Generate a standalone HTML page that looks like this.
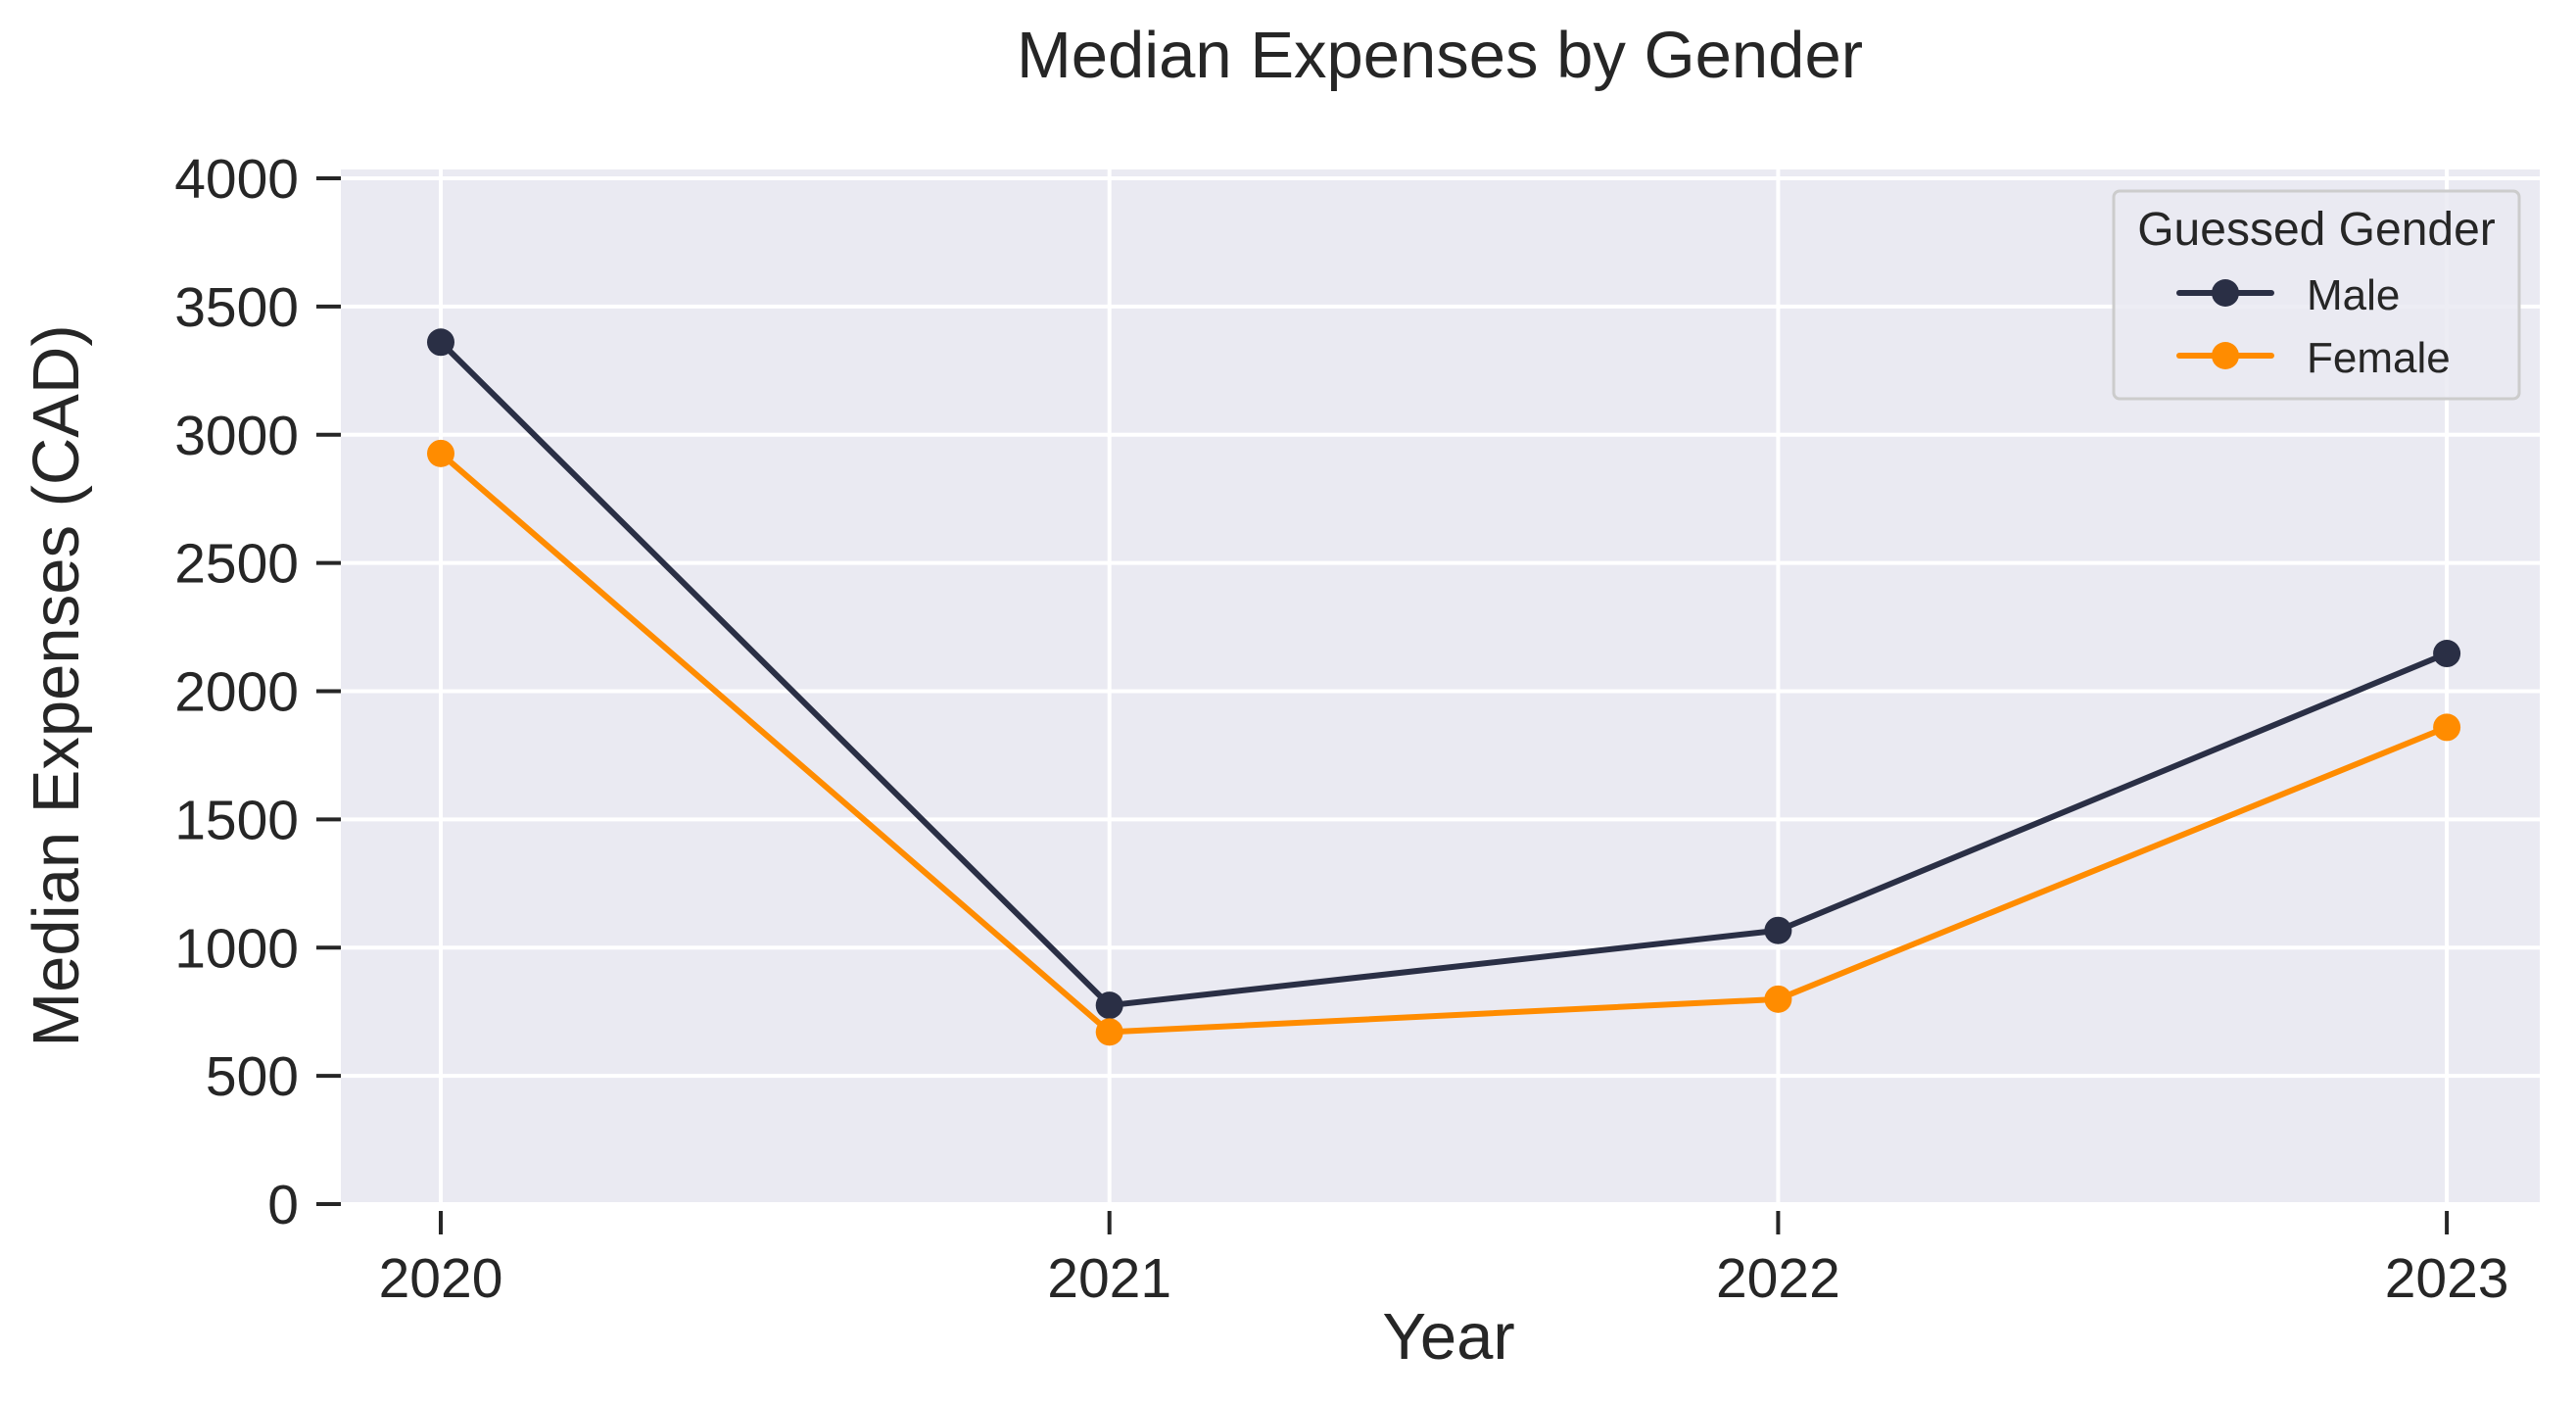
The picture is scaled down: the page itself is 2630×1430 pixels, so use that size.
<!DOCTYPE html>
<html><head><meta charset="utf-8"><style>
html,body{margin:0;padding:0;background:#fff;}
svg{display:block;font-family:"Liberation Sans",Arial,sans-serif;}
</style></head><body>
<svg id="chart" width="2630" height="1430" viewBox="0 0 2630 1430" xmlns="http://www.w3.org/2000/svg">
<rect x="0" y="0" width="2630" height="1430" fill="#ffffff"/>
<rect x="348" y="173" width="2245" height="1055" fill="#eaeaf2"/>
<g id="grid"></g>
<g id="axes"></g>
<g id="series"></g>
<text x="1470" y="79" font-size="67" fill="#262626" text-anchor="middle">Median Expenses by Gender</text>
<text x="1479" y="1387" font-size="67" fill="#262626" text-anchor="middle">Year</text>
<text transform="translate(80,700) rotate(-90)" font-size="67" fill="#262626" text-anchor="middle">Median Expenses (CAD)</text>
<g>
<rect x="2158" y="195" width="414" height="212" rx="6" fill="#eaeaf2" fill-opacity="0.85" stroke="#cccccc" stroke-width="3"/>
<text x="2365" y="250" font-size="48" fill="#262626" text-anchor="middle">Guessed Gender</text>
<g>
<line x1="2225" y1="299" x2="2319" y2="299" stroke="#2a2f45" stroke-width="6" stroke-linecap="round"/>
<circle cx="2272" cy="299" r="14" fill="#2a2f45"/>
<text x="2355" y="316" font-size="44" fill="#262626">Male</text>
</g>
<g>
<line x1="2225" y1="363" x2="2319" y2="363" stroke="#ff8c00" stroke-width="6" stroke-linecap="round"/>
<circle cx="2272" cy="363" r="14" fill="#ff8c00"/>
<text x="2355" y="380" font-size="44" fill="#262626">Female</text>
</g>
</g>
</svg>
<script>
const years = ["2020","2021","2022","2023"];
const maleValues = [3361, 775, 1067, 2147];
const femaleValues = [2927, 671, 799, 1859];
const yTicks = [0, 500, 1000, 1500, 2000, 2500, 3000, 3500, 4000];

const NS = "http://www.w3.org/2000/svg";
const X0 = 450, XSTEP = 682.7;
const Y0 = 1229, YPER = 0.26175;
function xPos(i){ return X0 + i * XSTEP; }
function yPos(v){ return Y0 - v * YPER; }
function mk(tag, attrs, parent){
  const e = document.createElementNS(NS, tag);
  for (const k in attrs) e.setAttribute(k, attrs[k]);
  parent.appendChild(e);
  return e;
}
const grid = document.getElementById('grid');
const axes = document.getElementById('axes');
const series = document.getElementById('series');

yTicks.forEach(function(t){
  const y = yPos(t);
  const g = mk('line', {x1:348, x2:2593, y1:y, y2:y, stroke:'#ffffff', 'stroke-width':4}, grid);
  
  
  const tk = mk('line', {x1:323, x2:348, y1:y, y2:y, stroke:'#262626', 'stroke-width':4}, axes);
  
  
  const lb = mk('text', {x:305, y:y+20, 'font-size':57, fill:'#262626', 'text-anchor':'end'}, axes);
  lb.textContent = String(t);
  
  
});
years.forEach(function(yr, i){
  const x = xPos(i);
  const g = mk('line', {x1:x, x2:x, y1:173, y2:1228, stroke:'#ffffff', 'stroke-width':4}, grid);
  
  
  const tk = mk('line', {x1:x, x2:x, y1:1236, y2:1260, stroke:'#262626', 'stroke-width':4}, axes);
  
  
  const lb = mk('text', {x:x, y:1324, 'font-size':57, fill:'#262626', 'text-anchor':'middle'}, axes);
  lb.textContent = yr;
  
  
});
function drawSeries(vals, color, name){
  const pts = vals.map(function(v, i){ return xPos(i) + ',' + yPos(v); }).join(' ');
  const pl = mk('polyline', {points:pts, fill:'none', stroke:color, 'stroke-width':6, 'stroke-linejoin':'round'}, series);
  
  
  vals.forEach(function(v, i){
    const c = mk('circle', {cx:xPos(i), cy:yPos(v), r:14, fill:color}, series);
    
    
  });
}
drawSeries(maleValues, '#2a2f45', 'male');
drawSeries(femaleValues, '#ff8c00', 'female');
</script>
</body></html>
